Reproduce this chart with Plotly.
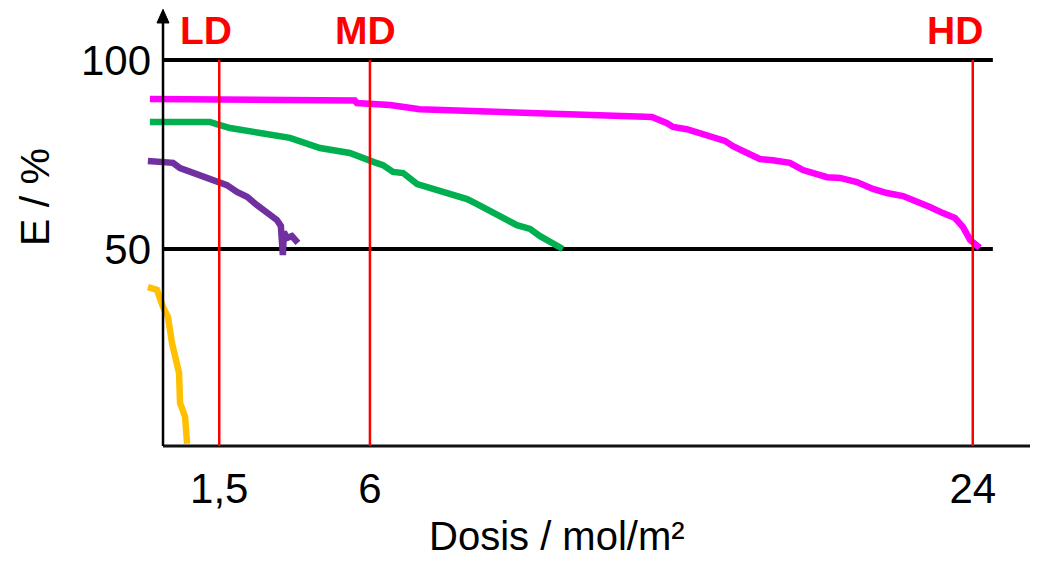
import plotly.graph_objects as go

# ---- data ----
magenta_x = [-0.57, 1.40, 5.55, 5.61, 6.12, 6.60, 7.49, 8.69, 10.48, 11.67, 12.87, 14.42, 14.87,
             15.05, 15.46, 16.06, 16.60, 16.84, 17.26, 17.64, 18.03, 18.54, 18.93, 19.65, 20.04,
             20.54, 21.02, 21.44, 21.92, 22.33, 22.72, 23.11, 23.47, 23.71, 23.86, 23.92, 24.21]
magenta_y = [89.7, 89.6, 89.3, 88.6, 88.4, 88.1, 87.0, 86.6, 86.2, 85.7, 85.2, 84.9, 83.3,
             82.3, 81.7, 79.9, 78.6, 77.2, 75.4, 73.8, 73.5, 72.8, 70.9, 69.0, 68.8,
             67.7, 65.9, 64.8, 64.0, 62.7, 61.1, 59.5, 58.2, 55.8, 53.7, 52.4, 50.3]

green_x = [-0.57, 1.22, 1.40, 1.82, 2.72, 3.61, 4.51, 5.11, 5.40, 6.12, 6.39, 6.69, 6.99,
           7.41, 7.88, 8.39, 8.90, 9.20, 9.58, 10.09, 10.39, 10.78, 11.08, 11.38, 11.76]
green_y = [83.6, 83.6, 83.1, 82.0, 80.7, 79.4, 76.7, 75.9, 75.4, 73.0, 72.2, 70.4, 70.1,
           67.2, 65.9, 64.3, 63.2, 61.9, 60.3, 57.7, 56.3, 55.3, 53.4, 51.9, 50.0]

purple_x = [-0.63, 0.12, 0.33, 0.84, 1.31, 1.73, 2.03, 2.33, 2.63, 2.93, 3.22, 3.34, 3.40,
            3.43, 3.52, 3.67, 3.85]
purple_y = [73.3, 72.8, 71.4, 69.6, 68.3, 66.9, 65.1, 63.8, 61.6, 59.8, 57.7, 56.1, 48.4,
            54.5, 52.9, 53.4, 51.6]

yellow_x = [-0.63, -0.36, -0.18, -0.03, 0.09, 0.24, 0.30, 0.33, 0.48, 0.54]
yellow_y = [39.9, 39.2, 34.7, 32.0, 25.1, 18.8, 17.2, 9.3, 5.6, -1.5]

dose_marks = [1.5, 6, 24]
dose_labels = ["LD", "MD", "HD"]
x_tick_vals = [1.5, 6, 24]
x_tick_text = ["1,5", "6", "24"]
y_tick_vals = [50, 100]
y_tick_text = ["50", "100"]
ref_levels = [50, 100]

# ---- geometry ----
X_RANGE = [-0.866, 25.948]
Y_RANGE = [-5.82, 113.76]
AXIS_X = -0.179
AXIS_Y = -2.1
REF_END = 24.6

FONT = "Liberation Sans, Arial, sans-serif"

fig = go.Figure()
series = [
    (magenta_x, magenta_y, "#FF00FF"),
    (green_x, green_y, "#00B050"),
    (purple_x, purple_y, "#7030A0"),
    (yellow_x, yellow_y, "#FFC000"),
]
for xs, ys, col in series:
    fig.add_trace(go.Scatter(x=xs, y=ys, mode="lines",
                             line=dict(color=col, width=6.5, shape="linear"),
                             showlegend=False, hoverinfo="skip"))

shapes = []
for lv in ref_levels:
    shapes.append(dict(type="line", xref="x", yref="y", x0=AXIS_X, x1=REF_END, y0=lv, y1=lv,
                       line=dict(color="black", width=4), layer="below"))
shapes.append(dict(type="line", xref="x", yref="y", x0=AXIS_X, x1=X_RANGE[1], y0=AXIS_Y, y1=AXIS_Y,
                   line=dict(color="#111111", width=3), layer="above"))
shapes.append(dict(type="line", xref="x", yref="y", x0=AXIS_X, x1=AXIS_X, y0=AXIS_Y, y1=110.5,
                   line=dict(color="black", width=2.5), layer="above"))
shapes.append(dict(type="path", xref="x", yref="y",
                   path=f"M {AXIS_X-0.18},109.8 L {AXIS_X+0.18},109.8 L {AXIS_X},113.4 Z",
                   fillcolor="black", line=dict(color="black", width=1), layer="above"))
for d in dose_marks:
    shapes.append(dict(type="line", xref="x", yref="y", x0=d, x1=d, y0=AXIS_Y, y1=100,
                       line=dict(color="#FF0000", width=2.5), layer="above"))

annotations = []
label_shift = [-13, -4, -18]
for d, lab, sh in zip(dose_marks, dose_labels, label_shift):
    annotations.append(dict(x=d, y=0.9513, xref="x", yref="paper", text=f"<b>{lab}</b>",
                            showarrow=False, xshift=sh, xanchor="center", yanchor="middle",
                            font=dict(family=FONT, size=39, color="#FF0000")))
annotations.append(dict(x=-0.1169, y=0.5819, xref="paper", yref="paper", text="E / %",
                        textangle=-90, showarrow=False, xanchor="center", yanchor="middle",
                        font=dict(family=FONT, size=41, color="black")))
annotations.append(dict(x=0.4644, y=-0.1681, xref="paper", yref="paper", text="Dosis / mol/m²",
                        showarrow=False, xanchor="center", yanchor="middle",
                        font=dict(family=FONT, size=40, color="black")))

fig.update_layout(
    width=1030, height=553,
    margin=dict(l=132, r=0, t=0, b=101, pad=0),
    paper_bgcolor="white", plot_bgcolor="white",
    shapes=shapes, annotations=annotations,
    showlegend=False,
    xaxis=dict(range=X_RANGE, showgrid=False, zeroline=False, showline=False, ticks="",
               tickvals=x_tick_vals, ticktext=x_tick_text,
               tickfont=dict(family=FONT, size=42, color="black")),
    yaxis=dict(range=Y_RANGE, showgrid=False, zeroline=False, showline=False, ticks="",
               tickvals=y_tick_vals, ticktext=y_tick_text, anchor="free", position=0.01225,
               tickfont=dict(family=FONT, size=42, color="black")),
)

fig.write_html("out.html")
